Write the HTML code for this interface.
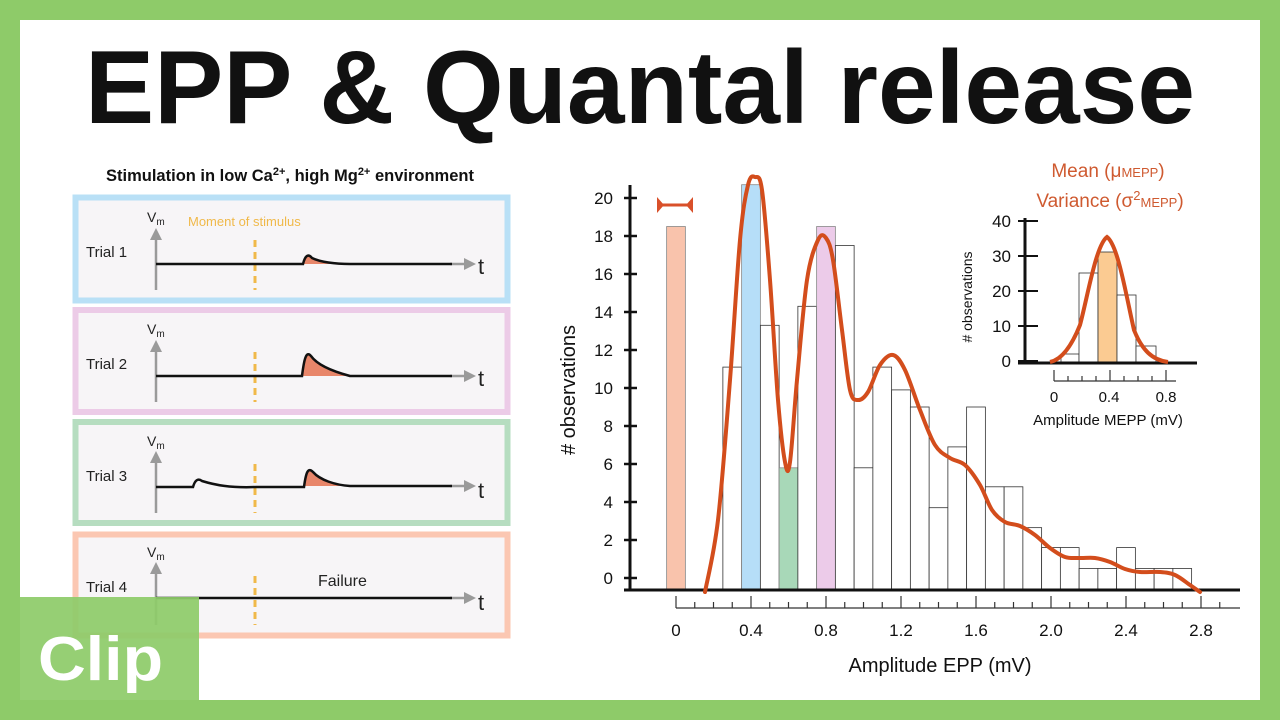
<!DOCTYPE html>
<html><head><meta charset="utf-8"><style>
html,body{margin:0;padding:0;background:#8ecb69;}
svg{display:block;}
text{font-family:"Liberation Sans",sans-serif;}
</style></head><body>
<svg width="1280" height="720" viewBox="0 0 1280 720" xmlns="http://www.w3.org/2000/svg">
<rect x="0" y="0" width="1280" height="720" fill="#8ecb69"/>
<rect x="20" y="20" width="1240" height="680" fill="#ffffff"/>
<text x="640" y="123" font-size="104" font-weight="bold" text-anchor="middle" textLength="1110" lengthAdjust="spacingAndGlyphs" fill="#111">EPP &amp; Quantal release</text>

<text x="290" y="181" font-size="16.5" font-weight="bold" text-anchor="middle" fill="#111">Stimulation in low Ca<tspan font-size="11" dy="-6">2+</tspan><tspan dy="6">, high Mg</tspan><tspan font-size="11" dy="-6">2+</tspan><tspan dy="6"> environment</tspan></text>

<g id="panels">
<rect x="75.5" y="197.5" width="432" height="103" fill="#f7f5f7" stroke="#b9e0f6" stroke-width="6"/>
<rect x="75.5" y="310" width="432" height="102" fill="#f7f5f7" stroke="#eccbe7" stroke-width="6"/>
<rect x="75.5" y="422" width="432" height="101" fill="#f7f5f7" stroke="#b6ddc0" stroke-width="6"/>
<rect x="75.5" y="534.5" width="432" height="101" fill="#f7f5f7" stroke="#fbc7b2" stroke-width="6"/>
</g>
<g font-size="15" fill="#222">
<text x="86" y="257">Trial 1</text>
<text x="86" y="369">Trial 2</text>
<text x="86" y="481">Trial 3</text>
<text x="86" y="592">Trial 4</text>
<text x="147" y="222" font-size="14">V<tspan font-size="10" dy="3">m</tspan></text>
<text x="147" y="334" font-size="14">V<tspan font-size="10" dy="3">m</tspan></text>
<text x="147" y="446" font-size="14">V<tspan font-size="10" dy="3">m</tspan></text>
<text x="147" y="557" font-size="14">V<tspan font-size="10" dy="3">m</tspan></text>
<text x="478" y="274" font-size="22">t</text>
<text x="478" y="386" font-size="22">t</text>
<text x="478" y="498" font-size="22">t</text>
<text x="478" y="610" font-size="22">t</text>
<text x="318" y="586" font-size="16">Failure</text>
</g>
<text x="188" y="226" font-size="13" fill="#f0b94a">Moment of stimulus</text>
<g stroke="#9a9a9a" stroke-width="2.5" fill="#9a9a9a">
<line x1="156" y1="290" x2="156" y2="236"/><polygon points="150,240 162,240 156,228" stroke="none"/>
<line x1="156" y1="402" x2="156" y2="348"/><polygon points="150,352 162,352 156,340" stroke="none"/>
<line x1="156" y1="513" x2="156" y2="459"/><polygon points="150,463 162,463 156,451" stroke="none"/>
<line x1="156" y1="625" x2="156" y2="570"/><polygon points="150,574 162,574 156,562" stroke="none"/>
<line x1="450" y1="264" x2="468" y2="264"/><polygon points="464,258 464,270 476,264" stroke="none"/>
<line x1="450" y1="376" x2="468" y2="376"/><polygon points="464,370 464,382 476,376" stroke="none"/>
<line x1="450" y1="486" x2="468" y2="486"/><polygon points="464,480 464,492 476,486" stroke="none"/>
<line x1="450" y1="598" x2="468" y2="598"/><polygon points="464,592 464,604 476,598" stroke="none"/>
</g>
<g stroke="#f0b94a" stroke-width="3" stroke-dasharray="7,5">
<line x1="255" y1="240" x2="255" y2="290"/>
<line x1="255" y1="352" x2="255" y2="402"/>
<line x1="255" y1="464" x2="255" y2="513"/>
<line x1="255" y1="576" x2="255" y2="625"/>
</g>
<g fill="#e8866a" stroke="none">
<path d="M303,264 C305,256 308,253 312,258 C320,262 335,264 350,264 Z"/>
<path d="M302,376 C304,360 306,350 311,356 C318,366 335,372 350,376 Z"/>
<path d="M304,486 C306,472 308,467 313,472 C320,480 335,485 350,486 Z"/>
</g>
<g fill="none" stroke="#111" stroke-width="2.5">
<path d="M156,264 H303 C305,256 308,253 312,258 C320,262 335,264 350,264 H452"/>
<path d="M156,376 H302 C304,360 306,350 311,356 C318,366 335,372 350,376 H452"/>
<path d="M156,487 H193 C195,480 198,478 202,481 C215,485 230,488 256,487 H304 C306,472 308,467 313,472 C320,480 335,485 350,486 H452"/>
<path d="M156,598 H452"/>
</g>
<rect x="20" y="597" width="179" height="103" fill="#8ecb69" opacity="0.93"/>
<text x="38" y="680" font-size="62" font-weight="bold" fill="#fff" textLength="125" lengthAdjust="spacingAndGlyphs">Clip</text>

<!-- main histogram -->
<g id="bars" stroke="#333" stroke-width="0.8"></g>
<g stroke="#111" stroke-width="3">
<line x1="630" y1="185" x2="630" y2="591"/>
<line x1="624" y1="590" x2="1240" y2="590"/>
</g>
<g id="yt" stroke="#111" stroke-width="2.5"></g>
<g id="xt" stroke="#333" stroke-width="1.2"></g>
<g id="lbl" font-size="17" fill="#111"></g>
<text transform="translate(575,390) rotate(-90)" font-size="20" text-anchor="middle" fill="#111"># observations</text>
<text x="940" y="672" font-size="20" text-anchor="middle" fill="#111">Amplitude EPP (mV)</text>
<g stroke="#d9502a" stroke-width="3" fill="#d9502a">
<line x1="660" y1="205" x2="690" y2="205"/>
<polygon points="657,197 664,205 657,213" stroke="none"/>
<polygon points="693,197 686,205 693,213" stroke="none"/>
</g>
<path id="curve" fill="none" stroke="#d34d1c" stroke-width="4" stroke-linecap="round"/>

<!-- inset -->
<g stroke="#333" stroke-width="0.8">
<rect x="1061" y="354" width="18" height="8" fill="#fff"/>
<rect x="1079" y="273" width="19" height="89" fill="#fff"/>
<rect x="1098" y="252" width="19" height="110" fill="#fbcb92"/>
<rect x="1117" y="295" width="19" height="67" fill="#fff"/>
<rect x="1136" y="346" width="20" height="16" fill="#fff"/>
</g>
<g stroke="#111" stroke-width="3">
<line x1="1025" y1="218" x2="1025" y2="364"/>
<line x1="1018" y1="363" x2="1197" y2="363"/>
</g>
<g stroke="#111" stroke-width="2">
<line x1="1018" y1="221" x2="1038" y2="221"/>
<line x1="1018" y1="256" x2="1038" y2="256"/>
<line x1="1018" y1="291" x2="1038" y2="291"/>
<line x1="1018" y1="326" x2="1038" y2="326"/>
<line x1="1018" y1="361" x2="1038" y2="361"/>
</g>
<g stroke="#333" stroke-width="1.2">
<line x1="1054" y1="381" x2="1176" y2="381"/>
<line x1="1054" y1="370" x2="1054" y2="381"/><line x1="1068" y1="376" x2="1068" y2="381"/>
<line x1="1082" y1="376" x2="1082" y2="381"/><line x1="1096" y1="376" x2="1096" y2="381"/>
<line x1="1110" y1="370" x2="1110" y2="381"/><line x1="1124" y1="376" x2="1124" y2="381"/>
<line x1="1138" y1="376" x2="1138" y2="381"/><line x1="1152" y1="376" x2="1152" y2="381"/>
<line x1="1166" y1="370" x2="1166" y2="381"/>
</g>
<g font-size="17" fill="#111" text-anchor="end">
<text x="1011" y="227">40</text><text x="1011" y="262">30</text><text x="1011" y="297">20</text><text x="1011" y="332">10</text><text x="1011" y="367">0</text>
</g>
<g font-size="15" fill="#111" text-anchor="middle">
<text x="1054" y="402">0</text><text x="1109" y="402">0.4</text><text x="1166" y="402">0.8</text>
<text x="1108" y="425">Amplitude MEPP (mV)</text>
</g>
<text transform="translate(972,297) rotate(-90)" font-size="14" text-anchor="middle" fill="#111"># observations</text>
<path d="M1050,362 C1060,360 1070,350 1080,325 C1088,295 1096,245 1107,237 C1118,245 1126,295 1134,330 C1142,350 1152,360 1168,362" fill="none" stroke="#d34d1c" stroke-width="4"/>
<g font-size="19" fill="#cf5a30" text-anchor="middle">
<text x="1108" y="177">Mean (μ<tspan font-size="13">MEPP</tspan>)</text>
<text x="1110" y="207">Variance (σ<tspan font-size="13" dy="-7">2</tspan><tspan font-size="13" dy="7">MEPP</tspan>)</text>
</g>
</svg>
<script>
var NS="http://www.w3.org/2000/svg";
function el(t,a,p){var e=document.createElementNS(NS,t);for(var k in a)e.setAttribute(k,a[k]);document.getElementById(p).appendChild(e);return e;}
var X=function(v){return 676+187.5*v;};
var bars=[[0,18.5,"#f9c3ac"],[0.3,11.1],[0.4,20.7,"#b6def8"],[0.5,13.3],[0.6,5.8,"#a8d8b8"],[0.7,14.3],[0.8,18.5,"#eccbe9"],[0.9,17.5],[1.0,5.8],[1.1,11.1],[1.2,9.9],[1.3,9.0],[1.4,3.7],[1.5,6.9],[1.6,9.0],[1.7,4.8],[1.8,4.8],[1.9,2.65],[2.0,1.6],[2.1,1.6],[2.2,0.5],[2.3,0.5],[2.4,1.6],[2.5,0.5],[2.6,0.5],[2.7,0.5]];
bars.forEach(function(b){var top=578-19*b[1];el("rect",{x:X(b[0]-0.05),y:top,width:18.75,height:590-top,fill:b[2]||"#fff",stroke:b[2]?"#888":"#333"},"bars");});
for(var v=0;v<=20;v+=2){var y=578-19*v;el("line",{x1:624,y1:y,x2:637,y2:y},"yt");var t=el("text",{x:613,y:y+6,"text-anchor":"end"},"lbl");t.textContent=v;}
el("line",{x1:676,y1:608,x2:1240,y2:608},"xt");
for(var i=0;i<=29;i++){var x=X(i*0.1);el("line",{x1:x,y1:(i%4==0)?596:602,x2:x,y2:608},"xt");}
for(var i=0;i<=7;i++){var t=el("text",{x:X(i*0.4),y:636,"text-anchor":"middle"},"lbl");t.textContent=i==0?"0":(i*0.4).toFixed(1);}
var P=[[705,592],[718,520],[730,380],[740,240],[748,185],[755,177],[762,190],[770,280],[778,400],[785,462],[790,462],[797,380],[807,280],[818,240],[826,238],[833,260],[842,330],[850,390],[858,400],[868,392],[880,365],[893,355],[905,370],[920,410],[935,445],[950,458],[965,465],[980,485],[992,510],[1005,522],[1020,526],[1035,535],[1050,548],[1065,557],[1080,558],[1095,558],[1110,562],[1125,569],[1140,572],[1160,572],[1175,575],[1190,585],[1200,592]];
var d="M"+P[0][0]+","+P[0][1];
for(var i=0;i<P.length-1;i++){var p0=P[Math.max(0,i-1)],p1=P[i],p2=P[i+1],p3=P[Math.min(P.length-1,i+2)];
d+=" C"+(p1[0]+(p2[0]-p0[0])/6)+","+(p1[1]+(p2[1]-p0[1])/6)+" "+(p2[0]-(p3[0]-p1[0])/6)+","+(p2[1]-(p3[1]-p1[1])/6)+" "+p2[0]+","+p2[1];}
document.getElementById("curve").setAttribute("d",d);
</script>
</body></html>
